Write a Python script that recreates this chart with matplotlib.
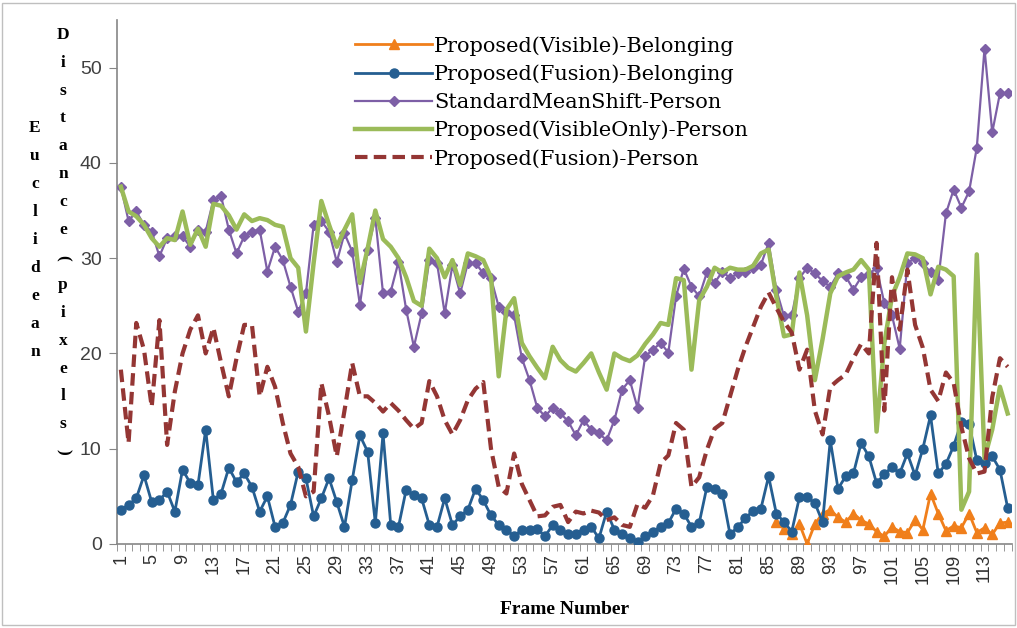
import numpy as np
import matplotlib
matplotlib.use('Agg')
import matplotlib.pyplot as plt
from matplotlib.patches import Rectangle

# frame numbers (categories)
frames = list(range(1, 117))
frames_vis = list(range(86, 117))
tick_frames = list(range(1, 117, 4))

# Proposed(Visible)-Belonging, frames 86..116
vis_belonging = [2.3, 1.6, 1.0, 2.1, 0.0, 2.1, 3.2, 3.6, 2.8, 2.3,
                 3.2, 2.5, 2.1, 1.3, 0.8, 1.8, 1.3, 1.2, 2.5, 1.5,
                 5.3, 3.2, 1.4, 1.9, 1.7, 3.2, 1.2, 1.7, 1.0, 2.2, 2.3]

fusion_belonging = [3.6, 4.1, 4.8, 7.2, 4.4, 4.6, 5.5, 3.4, 7.8, 6.4,
                    6.2, 12.0, 4.6, 5.3, 8.0, 6.5, 7.4, 6.0, 3.4, 5.0,
                    1.8, 2.2, 4.1, 7.6, 6.9, 2.9, 4.8, 6.9, 4.4, 1.8,
                    6.7, 11.4, 9.7, 2.2, 11.6, 2.0, 1.8, 5.7, 5.1, 4.8,
                    2.0, 1.8, 4.8, 2.0, 2.9, 3.6, 5.8, 4.6, 3.0, 2.0,
                    1.5, 0.8, 1.5, 1.5, 1.6, 0.8, 2.0, 1.5, 1.0, 1.1,
                    1.5, 1.8, 0.6, 3.4, 1.5, 1.1, 0.6, 0.2, 0.8, 1.3,
                    1.8, 2.2, 3.7, 3.2, 1.8, 2.2, 6.0, 5.8, 5.3, 1.0,
                    1.8, 2.7, 3.5, 3.7, 7.1, 3.2, 2.3, 1.3, 4.9, 4.9,
                    4.3, 2.3, 10.9, 5.8, 7.1, 7.4, 10.6, 9.2, 6.4, 7.3,
                    8.1, 7.4, 9.5, 7.2, 10.0, 13.5, 7.4, 8.4, 10.3, 12.8,
                    12.6, 8.8, 8.5, 9.2, 7.8, 3.8]

meanshift_person = [37.5, 33.9, 34.9, 33.5, 32.8, 30.2, 32.1, 32.3, 32.3, 31.2,
                    33.0, 32.8, 36.1, 36.5, 33.0, 30.5, 32.3, 32.8, 33.0, 28.6,
                    31.2, 29.8, 27.0, 24.4, 26.3, 33.5, 33.9, 32.8, 29.6, 32.6,
                    30.7, 25.1, 30.9, 34.2, 26.3, 26.5, 29.6, 24.6, 20.7, 24.2,
                    29.8, 29.5, 24.2, 29.3, 26.3, 29.5, 29.5, 28.4, 27.9, 24.9,
                    24.4, 24.0, 19.5, 17.2, 14.3, 13.4, 14.3, 13.7, 12.9, 11.4,
                    13.0, 12.0, 11.6, 10.9, 13.0, 16.2, 17.2, 14.3, 19.7, 20.4,
                    21.1, 20.1, 26.0, 28.9, 27.0, 26.0, 28.5, 27.4, 28.6, 27.9,
                    28.4, 28.6, 29.0, 29.3, 31.6, 26.7, 23.9, 24.0, 27.9, 29.0,
                    28.4, 27.6, 27.0, 28.4, 28.1, 26.7, 28.0, 28.3, 29.0, 25.3,
                    24.0, 20.5, 29.5, 30.0, 29.5, 28.5, 27.7, 34.7, 37.2, 35.3,
                    37.0, 41.6, 52.0, 43.2, 47.3, 47.3]

visonly_person = [37.5, 34.9, 34.4, 33.5, 32.1, 31.2, 32.1, 31.9, 34.9, 31.4,
                  33.1, 31.2, 35.7, 35.5, 34.5, 33.0, 34.6, 33.9, 34.2, 34.0,
                  33.5, 33.3, 30.0, 29.0, 22.3, 29.5, 36.0, 33.5, 31.2, 33.0,
                  34.6, 27.4, 31.0, 35.0, 32.0, 31.2, 30.0, 28.0, 25.5, 25.0,
                  31.0, 30.0, 28.0, 29.8, 27.2, 30.5, 30.2, 29.8, 28.0, 17.6,
                  24.6, 25.8, 21.1, 19.7, 18.5, 17.4, 20.7, 19.3, 18.5, 18.1,
                  19.0, 20.0, 18.0, 16.2, 20.0, 19.5, 19.2, 19.8, 21.0, 22.0,
                  23.2, 23.0, 27.9, 27.7, 18.3, 25.6, 27.0, 29.0, 28.5, 29.0,
                  28.8, 28.8, 29.2, 30.5, 30.9, 26.0, 21.8, 22.0, 28.5, 24.0,
                  17.2, 21.5, 26.3, 28.1, 28.5, 28.8, 29.8, 28.8, 11.8, 21.0,
                  26.0, 28.0, 30.5, 30.4, 30.0, 26.2, 29.1, 28.8, 28.1, 3.6,
                  5.5, 30.4, 9.0, 12.0, 16.5, 13.7]

fusion_person = [18.3, 10.6, 23.2, 20.4, 14.4, 23.5, 10.4, 16.0, 20.0, 22.5,
                 24.0, 20.0, 22.7, 19.0, 15.5, 19.5, 23.0, 23.0, 15.5, 18.6,
                 16.5, 12.7, 9.5, 8.1, 5.0, 5.5, 16.9, 13.4, 9.2, 14.0,
                 19.0, 15.5, 15.5, 14.8, 13.9, 14.8, 14.0, 13.0, 12.1, 12.7,
                 17.1, 15.5, 13.0, 11.5, 13.0, 15.1, 16.3, 17.0, 10.0, 6.0,
                 5.3, 9.5, 6.3, 4.6, 2.9, 3.0, 3.9, 4.1, 2.3, 3.4,
                 3.2, 3.5, 3.3, 2.5, 2.8, 2.0, 1.8, 4.2, 3.8, 5.1,
                 8.5, 9.3, 12.7, 12.0, 6.0, 7.0, 9.9, 12.1, 12.7, 15.5,
                 18.3, 20.7, 22.8, 24.9, 26.4, 24.8, 23.3, 22.2, 18.3, 20.4,
                 14.0, 11.5, 16.5, 17.2, 17.8, 19.5, 21.0, 20.0, 31.6, 14.0,
                 28.0, 22.5, 28.8, 23.0, 20.6, 16.2, 15.0, 18.0, 16.9, 12.3,
                 9.0, 7.4, 7.6, 15.4, 19.5, 18.6]

W, H = 1017, 628
fig = plt.figure(figsize=(W / 100, H / 100), dpi=100)
ax = fig.add_axes([117 / W, 1 - 544 / H, (1011.5 - 117) / W, (544 - 20) / H])

ax.plot(frames_vis, vis_belonging, color='#F07F1B', marker='^', ms=7.5, lw=2,
        label='Proposed(Visible)-Belonging', zorder=3)
ax.plot(frames, fusion_belonging, color='#255E91', marker='o', ms=6.5, lw=2,
        label='Proposed(Fusion)-Belonging', zorder=4)
ax.plot(frames, meanshift_person, color='#7D5FA6', marker='D', ms=5.5, lw=1.6,
        label='StandardMeanShift-Person', zorder=5)
ax.plot(frames, visonly_person, color='#9BBB59', lw=3.2,
        label='Proposed(VisibleOnly)-Person', zorder=6)
ax.plot(frames, fusion_person, color='#943634', lw=3, dashes=(3, 1.5),
        label='Proposed(Fusion)-Person', zorder=7)

ax.set_xlim(0.5, 116.5)
ax.set_ylim(0, 55)
ax.set_yticks([0, 10, 20, 30, 40, 50])
ax.set_xticks(tick_frames)
ax.set_xticklabels([str(f) for f in tick_frames], rotation=90,
                   fontsize=13, family='Liberation Sans', color='#303030')
ax.set_xticks(np.arange(0.5, 117, 1), minor=True)
ax.tick_params(axis='x', which='major', length=0, pad=7)
ax.tick_params(axis='x', which='minor', length=5, color='#868686', direction='out')
ax.tick_params(axis='y', length=6, color='#868686', pad=5, labelsize=14,
               labelcolor='#404040')
for t in ax.get_yticklabels():
    t.set_family('Liberation Sans')

for side in ['top', 'right']:
    ax.spines[side].set_visible(False)
for side in ['left', 'bottom']:
    ax.spines[side].set_color('#868686')
    ax.spines[side].set_linewidth(1.2)

leg = ax.legend(loc='upper left', bbox_to_anchor=(355 / W, 1 - 36 / H),
                bbox_transform=fig.transFigure, frameon=False,
                prop={'family': 'DejaVu Serif', 'size': 15},
                handlelength=3.7, handletextpad=0.1, labelspacing=0.42,
                borderpad=0, borderaxespad=0)

# stacked y axis title, one character per line as in the source
serif_b = {'family': 'Liberation Serif', 'weight': 'bold', 'size': 12.5}
for i, ch in enumerate('Euclidean'):
    fig.text(35 / W, 1 - (128 + i * 28) / H, ch, ha='center', va='center', **serif_b)
for i, ch in enumerate('Distance(pixels)'):
    rot = -90 if ch in '()' else 0
    fig.text(63 / W, 1 - (35 + i * 27.8) / H, ch, ha='center', va='center',
             rotation=rot, **serif_b)

fig.text(565 / W, 1 - 609 / H, 'Frame Number', ha='center', va='center',
         family='Liberation Serif', weight='bold', size=14)

fig.add_artist(Rectangle((2 / W, 3 / H), 1 - 4 / W, 1 - 6 / H, transform=fig.transFigure,
                         fill=False, ec='#BFBFBF', lw=1))

fig.savefig('out.png', dpi=100)
